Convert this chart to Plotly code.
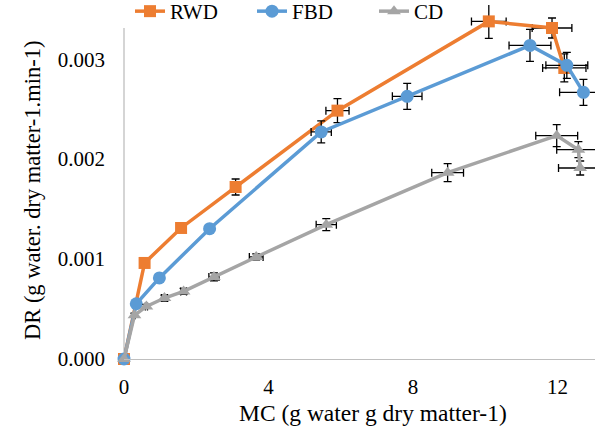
import plotly.graph_objects as go

# ---- data ----
rwd_x = [0.0, 0.57, 1.58, 3.09, 5.91, 10.10, 11.85, 12.19]
rwd_y = [0.0, 0.000961, 0.001311, 0.001721, 0.002485, 0.003378, 0.003312, 0.002912]
rwd_xerr = [0.0, 0.02, 0.03, 0.05, 0.32, 0.48, 0.55, 0.60]
rwd_yerr = [0.0, 0.00001, 0.00002, 0.00008, 0.00012, 0.00017, 0.00010, 0.00014]

fbd_x = [0.0, 0.34, 0.98, 2.37, 5.46, 7.84, 11.24, 12.26, 12.72]
fbd_y = [0.0, 0.000553, 0.000811, 0.001304, 0.002272, 0.002628, 0.003138, 0.002938, 0.002668]
fbd_xerr = [0.0, 0.02, 0.03, 0.06, 0.28, 0.41, 0.58, 0.58, 0.66]
fbd_yerr = [0.0, 0.00002, 0.00002, 0.00004, 0.00011, 0.00013, 0.00016, 0.00013, 0.00013]

cd_x = [0.0, 0.29, 0.62, 1.12, 1.65, 2.49, 3.66, 5.60, 8.96, 11.98, 12.58, 12.63]
cd_y = [0.0, 0.000438, 0.000526, 0.000610, 0.000676, 0.000821, 0.001021, 0.001344,
        0.001864, 0.002235, 0.002094, 0.001911]
cd_xerr = [0.0, 0.02, 0.03, 0.08, 0.08, 0.14, 0.19, 0.28, 0.44, 0.58, 0.60, 0.60]
cd_yerr = [0.0, 0.00002, 0.00002, 0.00003, 0.00003, 0.00004, 0.00003, 0.00006,
           0.00009, 0.00011, 0.00008, 0.00007]

x_ticks = [0, 4, 8, 12]
y_ticks = [0.0, 0.001, 0.002, 0.003]

FONT = "Liberation Serif"

series = [
    ("RWD", rwd_x, rwd_y, rwd_xerr, rwd_yerr, "#ED7D31", "square", 12),
    ("FBD", fbd_x, fbd_y, fbd_xerr, fbd_yerr, "#5B9BD5", "circle", 13),
    ("CD", cd_x, cd_y, cd_xerr, cd_yerr, "#A5A5A5", "triangle-up", 12),
]

fig = go.Figure()
for name, xs, ys, xe, ye, col, sym, sz in series:
    fig.add_trace(go.Scatter(
        x=xs, y=ys, name=name, mode="lines+markers",
        line=dict(color=col, width=3.5),
        marker=dict(color=col, symbol=sym, size=sz),
        error_x=dict(type="data", array=xe, visible=True, color="black",
                     thickness=1.3, width=4),
        error_y=dict(type="data", array=ye, visible=True, color="black",
                     thickness=1.3, width=4),
        cliponaxis=False,
    ))

fig.update_layout(
    width=595, height=428,
    margin=dict(l=124, r=0, t=5, b=69, autoexpand=False),
    paper_bgcolor="white", plot_bgcolor="white",
    font=dict(family=FONT, size=21, color="black"),
    showlegend=True,
    legend=dict(
        orientation="h", x=6 / 471, xanchor="left", y=(359 - 11.5) / 354,
        yanchor="middle",
        bgcolor="rgba(0,0,0,0)", font=dict(family=FONT, size=21, color="black"),
        itemwidth=30, tracegroupgap=0,
        entrywidth=77, entrywidthmode="pixels",
    ),
    xaxis=dict(
        range=[0, 13.04], tickvals=x_ticks, ticktext=[str(v) for v in x_ticks],
        showgrid=False, zeroline=False, showline=True, linecolor="#BFBFBF",
        linewidth=1.3, ticks="", ticklabelstandoff=9, automargin=False,
        tickfont=dict(family=FONT, size=21, color="black"),
    ),
    yaxis=dict(
        range=[0, 0.003542], tickvals=y_ticks, tickformat=".3f",
        showgrid=False, zeroline=False, showline=False,
        ticks="", ticklabelstandoff=18, automargin=False,
        tickfont=dict(family=FONT, size=21, color="black"),
    ),
    shapes=[
        # vertical axis line (stops below the legend, as in the reference)
        dict(type="line", xref="paper", yref="paper", x0=0, x1=0,
             y0=0, y1=(359 - 28) / 354, line=dict(color="#BFBFBF", width=1.3),
             layer="below"),
    ],
    annotations=[
        dict(text="MC (g water g dry matter-1)", xref="paper", yref="paper",
             x=(372.5 - 124) / 471, y=(359 - 413) / 354, xanchor="center",
             yanchor="middle", showarrow=False,
             font=dict(family=FONT, size=23.5, color="black")),
        dict(text="DR (g water. dry matter-1.min-1)", xref="paper", yref="paper",
             x=(33 - 124) / 471, y=(359 - 191) / 354, xanchor="center",
             yanchor="middle", textangle=-90, showarrow=False,
             font=dict(family=FONT, size=22.5, color="black")),
    ],
)

fig.write_html("out.html", config={"displayModeBar": False},
               post_script="document.body.style.margin='0';")
